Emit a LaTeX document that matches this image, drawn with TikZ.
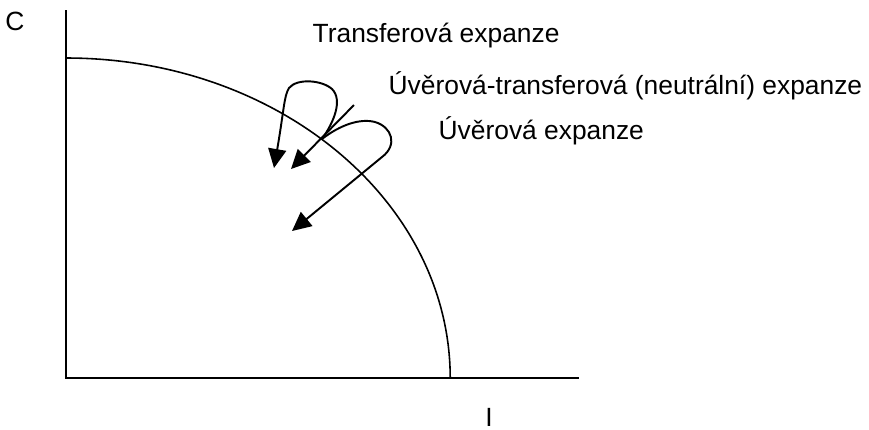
\documentclass[tikz,border=0pt]{standalone}
\usepackage{fontspec}
\setmainfont{Liberation Sans}
\usetikzlibrary{arrows.meta}
\tikzset{
  axisline/.style={line width=0.6pt},
  frontierline/.style={line width=0.45pt},
  expandarrow/.style={-{Triangle[length=0.19cm,width=0.18cm]},line width=0.55pt},
  expandlabel/.style={font=\fontsize{7.5}{9}\selectfont,anchor=west,inner sep=0pt},
  axislabel/.style={font=\fontsize{7.5}{9}\selectfont,inner sep=0pt}
}
\begin{document}
\begin{tikzpicture}[x=0.01cm,y=-0.01cm]
  \useasboundingbox (0,0) rectangle (869,429);
  % axes
  \coordinate (O) at (66,378);
  \coordinate (Ctop) at (66,10);
  \coordinate (Iend) at (579,378);
  \draw[axisline] (Ctop) -- (O) -- (Iend);
  \node[axislabel] (C) at (15,21) {C};
  \node[axislabel] (I) at (489,417) {I};
  % frontier
  \draw[frontierline] (66,58) arc[start angle=90,end angle=0,x radius=3.84cm,y radius=3.2cm];
  % labels
  \node[expandlabel] (transfer) at (312,36) {Transferová expanze};
  \node[expandlabel] (neutral) at (388,86) {Úvěrová-transferová (neutrální) expanze};
  \node[expandlabel] (credit) at (438,131) {Úvěrová expanze};
  % expansion arrows
  \coordinate (P) at (322,139);
  \coordinate (N0) at (354,105);
  \coordinate (tipT) at (274,168);
  \coordinate (tipN) at (291,169);
  \coordinate (tipU) at (292,231);
  \draw[expandarrow] (P) .. controls (334,122) and (343,100) .. (332,89)
    .. controls (322,80) and (297,78) .. (289,88)
    .. controls (284,96) and (284,110) .. (tipT);
  \draw[expandarrow] (N0) -- (tipN);
  \draw[expandarrow] (P) .. controls (340,125) and (360,118) .. (375,122)
    .. controls (392,127) and (398,145) .. (382,157) -- (tipU);
\end{tikzpicture}
\end{document}
